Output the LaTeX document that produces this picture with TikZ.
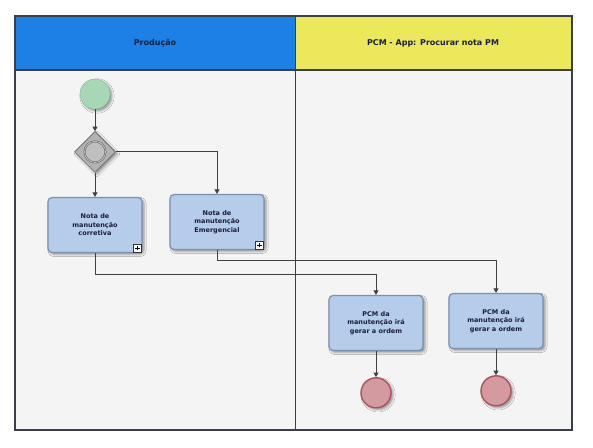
\documentclass[tikz,border=0pt]{standalone}
\usepackage{fontspec}
\setmainfont{DejaVu Sans}
\usetikzlibrary{positioning,shapes.geometric,arrows.meta,shadows.blur}

\definecolor{headblue}{HTML}{1C80E6}
\definecolor{headyellow}{HTML}{EBE85C}
\definecolor{lanebg}{HTML}{F4F4F4}
\definecolor{poolline}{HTML}{3A3E46}
\definecolor{taskfill}{HTML}{B5CCEA}
\definecolor{taskline}{HTML}{7D90AA}
\definecolor{startfill}{HTML}{A6D8B6}
\definecolor{startline}{HTML}{7DBE94}
\definecolor{endfill}{HTML}{D39BA0}
\definecolor{endline}{HTML}{B0525C}
\definecolor{textnavy}{HTML}{1A1F3A}

\newcommand{\plusmark}[1]{%
  \node (#1p) [plusbox] at ([shift={(-5,5)}]#1.south east) {};
  \draw[line width=1.1pt] ([xshift=-2.2]#1p.center) -- ([xshift=2.2]#1p.center);
  \draw[line width=1.1pt] ([yshift=-2.2]#1p.center) -- ([yshift=2.2]#1p.center);
}

\begin{document}
\begin{tikzpicture}[
    x=1pt, y=1pt,
    node distance = 22pt and 30pt,
    task/.style    = {draw=taskline,
                      line width=1.2pt,
                      fill=taskfill,
                      rounded corners=4pt,
                      minimum width=94pt,
                      minimum height=55pt,
                      align=center,
                      text=textnavy,
                      font=\fontsize{6.5}{8.5}\selectfont\bfseries,
                      blur shadow={shadow xshift=2pt, shadow yshift=-2pt,
                                   shadow blur steps=4}},
    plusbox/.style = {draw=black!80,
                      fill=white,
                      line width=0.6pt,
                      minimum size=8pt,
                      inner sep=0pt},
    startev/.style = {circle,
                      draw=startline,
                      fill=startfill,
                      minimum size=30pt,
                      blur shadow={shadow xshift=2pt, shadow yshift=-2pt}},
    endev/.style   = {circle,
                      draw=endline,
                      line width=1.4pt,
                      fill=endfill,
                      minimum size=30pt,
                      blur shadow={shadow xshift=2pt, shadow yshift=-2pt}},
    gate/.style    = {diamond,
                      draw=black!70,
                      fill=black!30,
                      minimum size=41pt,
                      inner sep=0pt,
                      blur shadow={shadow xshift=2pt, shadow yshift=-2pt}},
    head/.style    = {font=\fontsize{8}{10}\selectfont\bfseries,
                      text=textnavy},
    arr/.style     = {draw=black!75,
                      line width=0.8pt,
                      -{Triangle[width=5pt,length=4.5pt]}}
]
\useasboundingbox (0,0) rectangle (593,447);

% lanes
\fill[lanebg] (15,17) rectangle (572,377);
\fill[headblue] (15,377) rectangle (295,431);
\fill[headyellow] (295,377) rectangle (572,431);
\draw[poolline, line width=1.6pt] (15,377) -- (572,377);
\draw[poolline, line width=0.8pt] (295,17) -- (295,431);
\draw[poolline, line width=1.2pt] (15,17) rectangle (572,431);
\node (h1) [head] at (155,404) {Produção};
\node (h2) [head] at (433,404) {PCM - App: Procurar nota PM};

% Produção
\node (start) [startev] at (95,353) {};
\node (gw) [gate, below=of start] {};
\node (gwin) [circle, draw=black!70, fill=black!25, minimum size=21pt,
              double=black!25, double distance=1pt] at (gw) {};
\node (t1) [task] at (95,222) {Nota de\\manutenção\\corretiva};
\node (t2) [task] at (217,225) {Nota de\\manutenção\\Emergencial};
\plusmark{t1}
\plusmark{t2}

% PCM
\node (t3) [task] at (376,124) {PCM da\\manutenção irá\\gerar a ordem};
\node (t4) [task] at (496,126) {PCM da\\manutenção irá\\gerar a ordem};
\node (e1) [endev, below=26pt of t3] {};
\node (e2) [endev, below=26pt of t4] {};

\draw[arr] (start) -- (gw);
\draw[arr] (gw) -- (t1);
\draw[arr] (gw.east) -| (t2.north);
\draw[arr] (t1.south) -- ++(0,-21) -| (t3.north);
\draw[arr] (t2.south) -- ++(0,-10.5) -| (t4.north);
\draw[arr] (t3) -- (e1);
\draw[arr] (t4) -- (e2);
\end{tikzpicture}
\end{document}
